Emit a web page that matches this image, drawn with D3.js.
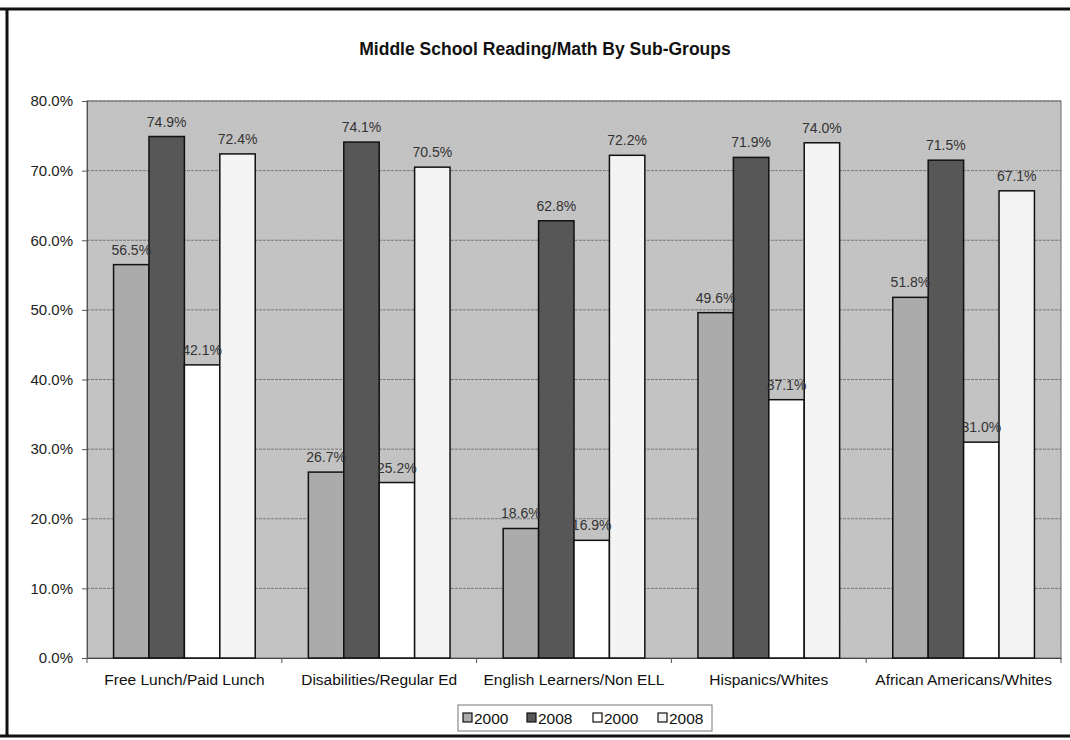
<!DOCTYPE html>
<html>
<head>
<meta charset="utf-8">
<script src="https://cdn.jsdelivr.net/npm/d3@7"></script>
<style>
  html, body { margin: 0; padding: 0; background: #ffffff; }
  svg { display: block; font-family: "Liberation Sans", Arial, sans-serif; }
</style>
</head>
<body>
<svg id="chart" width="1070" height="740"></svg>
<script>
const title = "Middle School Reading/Math By Sub-Groups";
const categories = ["Free Lunch/Paid Lunch", "Disabilities/Regular Ed", "English Learners/Non ELL", "Hispanics/Whites", "African Americans/Whites"];
const seriesNames = ["2000", "2008", "2000", "2008"];
const s1 = [56.5, 26.7, 18.6, 49.6, 51.8];
const s2 = [74.9, 74.1, 62.8, 71.9, 71.5];
const s3 = [42.1, 25.2, 16.9, 37.1, 31.0];
const s4 = [72.4, 70.5, 72.2, 74.0, 67.1];
const yTicks = [0, 10, 20, 30, 40, 50, 60, 70, 80];
const seriesColors = ["#ababab", "#575757", "#ffffff", "#f4f4f4"];

const seriesValues = [s1, s2, s3, s4];
const svg = d3.select("#chart");
const W = 1070, H = 740;
const plot = { left: 87, top: 101, right: 1061, bottom: 658 };

// outer frame (scanned page border)
svg.append("line").attr("x1", 0).attr("x2", W).attr("y1", 9).attr("y2", 9).attr("stroke", "#111").attr("stroke-width", 3);
svg.append("line").attr("x1", 7).attr("x2", 7).attr("y1", 8).attr("y2", 737).attr("stroke", "#111").attr("stroke-width", 3);
svg.append("line").attr("x1", 0).attr("x2", W).attr("y1", 736).attr("y2", 736).attr("stroke", "#111").attr("stroke-width", 3);

// title
svg.append("text").attr("x", 545).attr("y", 55).attr("text-anchor", "middle")
  .attr("font-size", 17.5).attr("font-weight", "bold").attr("fill", "#111").text(title);

const x0 = d3.scaleBand().domain(categories).range([plot.left, plot.right]).paddingInner(0).paddingOuter(0);
const x1 = d3.scaleBand().domain(d3.range(4)).range([0, x0.bandwidth()]).paddingOuter(0.75).paddingInner(0);
const y = d3.scaleLinear().domain([0, 80]).range([plot.bottom, plot.top]);

// plot background with light texture
const defs = svg.append("defs");
const f = defs.append("filter").attr("id", "grain").attr("x", 0).attr("y", 0).attr("width", 1).attr("height", 1);
f.append("feTurbulence").attr("type", "fractalNoise").attr("baseFrequency", 0.9).attr("numOctaves", 1).attr("seed", 3).attr("result", "n");
f.append("feColorMatrix").attr("in", "n").attr("type", "matrix")
  .attr("values", "0 0 0 0 0  0 0 0 0 0  0 0 0 0 0  0 0 0 0.12 0").attr("result", "a");
f.append("feComposite").attr("in", "a").attr("in2", "SourceGraphic").attr("operator", "atop");

svg.append("rect").attr("x", plot.left).attr("y", plot.top)
  .attr("width", plot.right - plot.left).attr("height", plot.bottom - plot.top)
  .attr("fill", "#c8c8c8");
svg.append("rect").attr("x", plot.left).attr("y", plot.top)
  .attr("width", plot.right - plot.left).attr("height", plot.bottom - plot.top)
  .attr("fill", "#c8c8c8").attr("filter", "url(#grain)");

// gridlines
svg.append("g").selectAll("line").data(yTicks.filter(d => d > 0)).join("line")
  .attr("x1", plot.left).attr("x2", plot.right)
  .attr("y1", d => y(d)).attr("y2", d => y(d))
  .attr("stroke", "#777").attr("stroke-width", 1).attr("stroke-dasharray", "3,1");

// plot border
svg.append("rect").attr("x", plot.left).attr("y", plot.top)
  .attr("width", plot.right - plot.left).attr("height", plot.bottom - plot.top)
  .attr("fill", "none").attr("stroke", "#6a6a6a").attr("stroke-width", 1);

// y axis
const yAxis = d3.axisLeft(y).tickValues(yTicks).tickFormat(d => d.toFixed(1) + "%").tickSize(5).tickPadding(9);
const gy = svg.append("g").attr("transform", `translate(${plot.left},0)`).call(yAxis);
gy.select(".domain").attr("stroke", "#555");
gy.selectAll(".tick line").attr("stroke", "#555");
gy.selectAll(".tick text").attr("font-size", 15).attr("fill", "#222").attr("font-family", "Liberation Sans, Arial, sans-serif");

// x axis
const xAxis = d3.axisBottom(x0).tickSize(0).tickPadding(16);
const gx = svg.append("g").attr("transform", `translate(0,${plot.bottom})`).call(xAxis);
gx.select(".domain").attr("stroke", "#444");
gx.selectAll(".tick text").attr("font-size", 15.5).attr("fill", "#111").attr("font-family", "Liberation Sans, Arial, sans-serif");
svg.append("g").selectAll("line").data(d3.range(categories.length + 1)).join("line")
  .attr("x1", i => plot.left + i * x0.bandwidth()).attr("x2", i => plot.left + i * x0.bandwidth())
  .attr("y1", plot.bottom).attr("y2", plot.bottom + 5).attr("stroke", "#555");

// bars
const rows = [];
categories.forEach((c, ci) => seriesValues.forEach((vals, si) => rows.push({ c, si, v: vals[ci] })));
svg.append("g").selectAll("rect").data(rows).join("rect")
  .attr("x", d => x0(d.c) + x1(d.si))
  .attr("y", d => y(d.v))
  .attr("width", x1.bandwidth())
  .attr("height", d => y(0) - y(d.v))
  .attr("fill", d => seriesColors[d.si])
  .attr("stroke", "#111").attr("stroke-width", 1.5);

// data labels
svg.append("g").selectAll("text").data(rows).join("text")
  .attr("x", d => x0(d.c) + x1(d.si) + x1.bandwidth() / 2)
  .attr("y", d => y(d.v) - 10)
  .attr("text-anchor", "middle").attr("font-size", 14).attr("fill", "#333")
  .text(d => d.v.toFixed(1) + "%");

// legend
const lg = svg.append("g");
lg.append("rect").attr("x", 458).attr("y", 705).attr("width", 254).attr("height", 26)
  .attr("fill", "#fff").attr("stroke", "#777").attr("stroke-width", 1);
const itemX = [463, 527, 593, 658];
seriesNames.forEach((n, i) => {
  lg.append("rect").attr("x", itemX[i]).attr("y", 713).attr("width", 9).attr("height", 9)
    .attr("fill", seriesColors[i]).attr("stroke", "#111").attr("stroke-width", 1.2);
  lg.append("text").attr("x", itemX[i] + 11).attr("y", 723.5).attr("font-size", 15.5).attr("fill", "#111").text(n);
});
</script>
</body>
</html>
